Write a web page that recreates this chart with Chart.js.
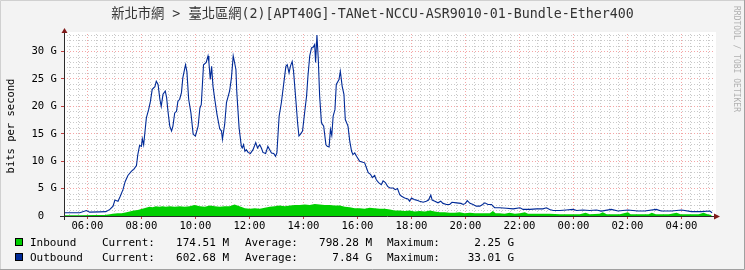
<!DOCTYPE html>
<html>
<head>
<meta charset="utf-8">
<script src="https://cdn.jsdelivr.net/npm/chart.js@4/dist/chart.umd.min.js"></script>
<style>
html, body { margin: 0; padding: 0; background: #f3f3f3; }
#wrap { position: relative; width: 745px; height: 270px; }
</style>
</head>
<body>
<div id="wrap"><canvas id="trafficChart" width="745" height="270"></canvas></div>
<script>
// minutes since midnight of the first day (values past 1440 are the next day)
const chartTitle = '新北市網 > 臺北區網(2)[APT40G]-TANet-NCCU-ASR9010-01-Bundle-Ether400';

const outTimes = [309, 325, 343, 358, 365, 387, 401, 410, 417, 421, 428, 433, 439, 444, 450, 458, 463, 469, 472, 476,
    480, 482, 485, 491, 496, 500, 504, 510, 513, 517, 521, 524, 528, 533, 536, 539, 543, 547, 550, 554,
    558, 561, 565, 569, 572, 578, 581, 585, 590, 595, 600, 606, 610, 613, 618, 624, 628, 630, 633, 636,
    639, 643, 648, 654, 658, 660, 665, 669, 676, 680, 684, 687, 690, 692, 697, 702, 704, 707, 710, 713,
    717, 722, 728, 734, 738, 743, 747, 750, 756, 761, 765, 769, 774, 778, 781, 786, 791, 796, 801, 804,
    808, 811, 815, 818, 823, 827, 830, 833, 838, 843, 847, 850, 854, 858, 861, 865, 867, 870, 873, 876,
    880, 885, 890, 893, 897, 900, 903, 906, 910, 913, 919, 922, 926, 930, 933, 939, 943, 947, 950, 954,
    958, 965, 972, 976, 980, 984, 989, 993, 998, 1002, 1007, 1013, 1017, 1022, 1027, 1032, 1039, 1044, 1049, 1054,
    1058, 1065, 1072, 1076, 1080, 1086, 1091, 1098, 1106, 1113, 1118, 1123, 1126, 1132, 1139, 1145, 1150, 1158, 1165, 1170,
    1180, 1190, 1195, 1200, 1204, 1210, 1217, 1224, 1232, 1238, 1243, 1250, 1258, 1261, 1265, 1276, 1291, 1306, 1321, 1328,
    1343, 1358, 1372, 1380, 1387, 1395, 1410, 1424, 1439, 1447, 1461, 1476, 1491, 1502, 1524, 1539, 1561, 1583, 1598, 1624,
    1635, 1658, 1680, 1702, 1724, 1743, 1748];

// Gbit/s
const outValues = [0.6, 0.6, 0.6, 1.0, 0.7, 0.75, 0.8, 1.2, 1.8, 2.9, 2.7, 3.6, 4.8, 6.3, 7.4, 8.2, 8.5, 9.2, 11.2, 12.9,
    12.7, 14.1, 13.0, 17.9, 19.4, 20.9, 23.1, 23.6, 24.6, 24.0, 21.3, 20.0, 22.2, 22.8, 21.6, 19.1, 16.4, 15.5, 16.4, 18.8,
    19.1, 20.9, 21.3, 22.5, 25.2, 27.6, 26.4, 21.3, 18.8, 14.9, 14.6, 16.4, 19.7, 20.3, 27.6, 28.0, 29.2, 28.0, 24.9, 27.3,
    23.7, 21.3, 18.5, 15.9, 15.5, 14.0, 16.7, 20.7, 22.8, 25.2, 29.2, 28.0, 26.7, 22.5, 16.1, 12.7, 12.4, 13.0, 11.8, 12.1,
    11.6, 11.4, 12.1, 13.4, 12.4, 13.0, 12.3, 11.6, 11.4, 12.7, 12.1, 11.5, 11.4, 10.9, 11.5, 18.2, 20.7, 24.0, 27.3, 27.6,
    26.1, 27.3, 28.2, 26.4, 21.3, 17.0, 14.6, 14.9, 15.5, 19.1, 21.9, 25.5, 29.2, 30.7, 30.7, 31.3, 28.0, 33.0, 28.6, 21.9,
    17.0, 16.4, 13.0, 12.7, 12.6, 15.8, 14.7, 18.2, 19.4, 24.0, 24.9, 26.4, 23.7, 22.2, 17.6, 16.4, 13.6, 11.8, 11.2, 11.5,
    10.9, 10.0, 9.8, 9.7, 8.8, 7.9, 7.6, 7.0, 7.4, 6.6, 6.1, 5.7, 6.4, 6.1, 5.4, 5.1, 5.1, 4.8, 5.0, 3.9,
    3.6, 3.3, 3.1, 2.7, 3.3, 3.0, 2.9, 2.7, 2.5, 2.7, 2.9, 3.8, 2.9, 2.7, 2.4, 2.7, 2.3, 2.1, 2.1, 2.5,
    2.4, 2.3, 2.1, 2.3, 2.8, 2.3, 2.1, 1.8, 1.8, 2.1, 2.4, 2.1, 2.1, 1.8, 1.5, 1.5, 1.4, 1.3, 1.5, 1.2,
    1.2, 1.3, 1.3, 1.5, 1.2, 1.0, 1.0, 1.1, 1.2, 1.0, 1.1, 1.0, 1.1, 0.9, 1.2, 0.9, 1.1, 0.9, 0.9, 1.2,
    0.9, 0.9, 1.1, 0.8, 0.8, 0.9, 0.6];

const inTimes = [310, 343, 376, 398, 410, 416, 427, 436, 447, 454, 463, 472, 476, 482, 490, 498, 505, 512, 520, 527,
    534, 543, 554, 565, 576, 587, 598, 610, 621, 632, 643, 654, 665, 676, 687, 698, 710, 721, 732, 743,
    754, 765, 776, 787, 799, 810, 821, 832, 843, 854, 865, 876, 887, 898, 910, 921, 932, 943, 954, 965,
    976, 987, 998, 1010, 1021, 1032, 1043, 1054, 1065, 1076, 1087, 1098, 1110, 1121, 1132, 1143, 1154, 1165, 1176, 1187,
    1198, 1210, 1221, 1232, 1243, 1254, 1261, 1267, 1276, 1287, 1298, 1310, 1321, 1332, 1339, 1354, 1376, 1387, 1410, 1432,
    1454, 1467, 1476, 1498, 1505, 1514, 1543, 1561, 1567, 1585, 1607, 1614, 1623, 1652, 1669, 1678, 1696, 1718, 1729, 1738,
    1747];

const inValues = [0.15, 0.15, 0.2, 0.2, 0.3, 0.4, 0.5, 0.5, 0.7, 0.8, 1.0, 1.1, 1.2, 1.3, 1.5, 1.7, 1.6, 1.8, 1.7, 1.8,
    1.7, 1.8, 1.7, 1.8, 1.7, 1.8, 2.0, 1.8, 1.7, 1.9, 1.8, 1.7, 1.8, 1.8, 2.1, 1.8, 1.4, 1.3, 1.4, 1.3,
    1.5, 1.7, 1.8, 1.9, 1.8, 1.9, 2.0, 2.0, 2.1, 2.0, 2.2, 2.1, 2.0, 2.0, 1.9, 1.9, 1.7, 1.6, 1.4, 1.4,
    1.3, 1.5, 1.4, 1.3, 1.3, 1.2, 1.0, 1.0, 0.9, 1.0, 0.8, 0.9, 0.8, 1.0, 0.8, 0.7, 0.7, 0.6, 0.6, 0.7,
    0.5, 0.6, 0.5, 0.5, 0.5, 0.5, 0.9, 0.5, 0.5, 0.4, 0.6, 0.4, 0.5, 0.7, 0.4, 0.4, 0.4, 0.4, 0.3, 0.3,
    0.3, 0.6, 0.3, 0.4, 0.7, 0.3, 0.3, 0.7, 0.3, 0.3, 0.3, 0.6, 0.3, 0.3, 0.6, 0.3, 0.3, 0.3, 0.6, 0.3,
    0.2];

const legendRows = [
    { name: 'Inbound', color: '#00cf00', current: '174.51 M', average: '798.28 M', maximum: '2.25 G' },
    { name: 'Outbound', color: '#002a97', current: '602.68 M', average: '7.84 G', maximum: '33.01 G' }
];

const xTickValues = [];
for (let m = 320; m <= 1740; m += 20) xTickValues.push(m);
const yTickValues = [];
for (let v = 0; v <= 33; v++) yTickValues.push(v);

const MONO = '"DejaVu Sans Mono", "Noto Sans CJK TC", monospace';
const MAJOR_GRID = '#f5a5a5';
const MINOR_GRID = '#c9c9c9';

function clockLabel(m) {
    const h = Math.floor((m % 1440) / 60);
    return String(h).padStart(2, '0') + ':00';
}

function toPoints(times, values) {
    return times.map((t, i) => ({ x: t, y: values[i] }));
}

function isMajorX(c) {
    return c.tick && c.tick.value % 120 === 0;
}

function isMajorY(c) {
    return c.tick && c.tick.value % 5 === 0 && c.tick.value > 0;
}

const rrdDecor = {
    id: 'rrdDecor',
    beforeDraw(chart) {
        const { ctx, chartArea: a } = chart;
        ctx.save();
        ctx.fillStyle = '#f3f3f3';
        ctx.fillRect(0, 0, chart.width, chart.height);
        ctx.fillStyle = '#ffffff';
        ctx.fillRect(a.left, a.top - 2, a.right - a.left + 3, a.bottom - a.top + 2);
        ctx.restore();
    },
    afterDraw(chart) {
        const { ctx, chartArea: a } = chart;
        ctx.save();

        // axes
        ctx.strokeStyle = '#2a2a2a';
        ctx.lineWidth = 1;
        ctx.beginPath();
        ctx.moveTo(a.left - 4, a.bottom + 0.5);
        ctx.lineTo(a.right + 2, a.bottom + 0.5);
        ctx.moveTo(a.left + 0.5, a.bottom + 4);
        ctx.lineTo(a.left + 0.5, a.top - 1);
        ctx.stroke();

        // arrows
        ctx.fillStyle = '#7f1a1a';
        ctx.beginPath();
        ctx.moveTo(a.left - 2.5, a.top - 1);
        ctx.lineTo(a.left + 3.5, a.top - 1);
        ctx.lineTo(a.left + 0.5, a.top - 6);
        ctx.closePath();
        ctx.fill();
        ctx.beginPath();
        ctx.moveTo(a.right + 1, a.bottom - 2.5);
        ctx.lineTo(a.right + 1, a.bottom + 3.5);
        ctx.lineTo(a.right + 7, a.bottom + 0.5);
        ctx.closePath();
        ctx.fill();

        // title
        ctx.fillStyle = '#333333';
        ctx.font = '13.3px ' + MONO;
        ctx.textAlign = 'center';
        ctx.textBaseline = 'middle';
        ctx.fillText(chartTitle, 372.5, 15);

        // y axis title
        ctx.save();
        ctx.translate(11, 126);
        ctx.rotate(-Math.PI / 2);
        ctx.fillStyle = '#000';
        ctx.font = '10.5px ' + MONO;
        ctx.fillText('bits per second', 0, 0);
        ctx.restore();

        // watermark
        ctx.save();
        ctx.translate(736.5, 6);
        ctx.rotate(Math.PI / 2);
        ctx.fillStyle = '#b0b0b0';
        ctx.font = '8px ' + MONO;
        ctx.textAlign = 'left';
        ctx.fillText('RRDTOOL / TOBI OETIKER', 0, 0);
        ctx.restore();

        // legend
        ctx.font = '11px ' + MONO;
        ctx.textBaseline = 'alphabetic';
        legendRows.forEach((row, i) => {
            const base = 246 + i * 15;
            ctx.fillStyle = row.color;
            ctx.fillRect(15, base - 8, 8, 8);
            ctx.strokeStyle = '#000';
            ctx.strokeRect(15.5, base - 7.5, 7, 7);
            ctx.fillStyle = '#000';
            ctx.textAlign = 'left';
            ctx.fillText(row.name, 30, base);
            ctx.fillText('Current:', 102, base);
            ctx.fillText('Average:', 245, base);
            ctx.fillText('Maximum:', 387, base);
            ctx.textAlign = 'right';
            ctx.fillText(row.current, 229, base);
            ctx.fillText(row.average, 372, base);
            ctx.fillText(row.maximum, 514, base);
        });

        // frame
        ctx.strokeStyle = '#d0d0d0';
        ctx.beginPath();
        ctx.moveTo(0.5, chart.height);
        ctx.lineTo(0.5, 0.5);
        ctx.lineTo(chart.width, 0.5);
        ctx.stroke();
        ctx.strokeStyle = '#a0a0a0';
        ctx.beginPath();
        ctx.moveTo(chart.width - 0.5, 0);
        ctx.lineTo(chart.width - 0.5, chart.height - 0.5);
        ctx.lineTo(0, chart.height - 0.5);
        ctx.stroke();

        ctx.restore();
    }
};

const ctx = document.getElementById('trafficChart').getContext('2d');
new Chart(ctx, {
    type: 'line',
    data: {
        datasets: [
            {
                label: 'Outbound',
                data: toPoints(outTimes, outValues),
                borderColor: '#002a97',
                borderWidth: 1.1,
                pointRadius: 0,
                fill: false,
                tension: 0
            },
            {
                label: 'Inbound',
                data: toPoints(inTimes, inValues),
                borderWidth: 0,
                borderColor: '#00cf00',
                backgroundColor: '#00cf00',
                pointRadius: 0,
                fill: 'origin',
                tension: 0
            }
        ]
    },
    options: {
        responsive: false,
        animation: false,
        devicePixelRatio: 1,
        layout: { padding: { top: 34, right: 32, bottom: 40, left: 0 } },
        plugins: {
            legend: { display: false },
            tooltip: { enabled: false },
            title: { display: false }
        },
        scales: {
            x: {
                type: 'linear',
                min: 308,
                max: 1750,
                afterBuildTicks: scale => { scale.ticks = xTickValues.map(v => ({ value: v })); },
                afterFit: scale => { scale.height = 14; },
                border: { display: false, dash: [1, 2] },
                grid: {
                    color: c => isMajorX(c) ? MAJOR_GRID : MINOR_GRID,
                    lineWidth: 1,
                    drawTicks: true,
                    tickLength: 3,
                    tickColor: c => isMajorX(c) ? '#c04040' : 'rgba(0,0,0,0)'
                },
                ticks: {
                    autoSkip: false,
                    maxRotation: 0,
                    padding: 1,
                    color: '#000',
                    font: { family: MONO, size: 10.6 },
                    callback: v => v % 120 === 0 ? clockLabel(v) : ''
                }
            },
            y: {
                min: 0,
                max: 33.2,
                afterBuildTicks: scale => { scale.ticks = yTickValues.map(v => ({ value: v })); },
                afterFit: scale => { scale.width = 64; },
                border: { display: false, dash: [1, 2] },
                grid: {
                    color: c => (c.tick && c.tick.value === 0) ? 'rgba(0,0,0,0)' : (isMajorY(c) ? MAJOR_GRID : MINOR_GRID),
                    lineWidth: 1,
                    drawTicks: true,
                    tickLength: 3,
                    tickColor: c => isMajorY(c) ? '#c04040' : 'rgba(0,0,0,0)'
                },
                ticks: {
                    autoSkip: false,
                    padding: 4,
                    color: '#000',
                    font: { family: MONO, size: 10.6 },
                    callback: v => v % 5 === 0 ? (v === 0 ? '0  ' : v + ' G') : ''
                }
            }
        }
    },
    plugins: [rrdDecor]
});
</script>
</body>
</html>
